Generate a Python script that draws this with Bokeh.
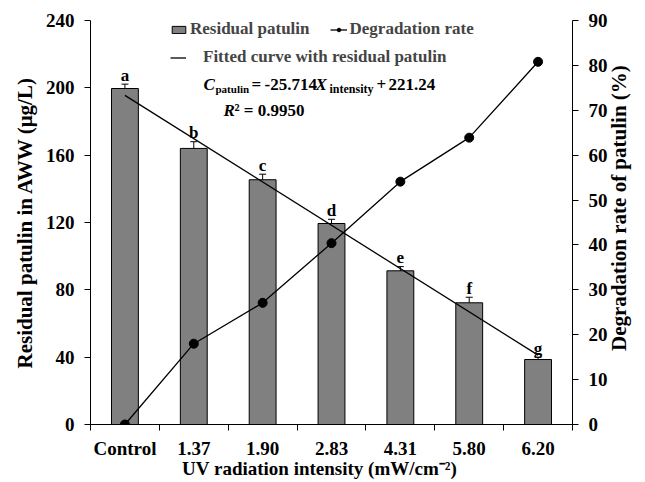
import math
from bokeh.plotting import figure
from bokeh.models import (Range1d, LinearAxis, FixedTicker, ColumnDataSource, Whisker,
                          TeeHead, Legend, LegendItem, Label)
from bokeh.embed import file_html
from bokeh.resources import INLINE
from bokeh.core.properties import value

# ---------------- data ----------------
categories = ["Control", "1.37", "1.90", "2.83", "4.31", "5.80", "6.20"]
residual = [199.6, 164.0, 145.4, 119.4, 91.3, 72.3, 38.6]
residual_err = [2.6, 4.0, 3.3, 2.5, 2.5, 3.3, 1.4]
letters = ["a", "b", "c", "d", "e", "f", "g"]
degradation = [0.0, 18.0, 27.1, 40.4, 54.1, 63.9, 80.8]
fit_x = [1, 7]
fit_y = [195.5, 41.2]
left_ticks = [0, 40, 80, 120, 160, 200, 240]
right_ticks = [0, 10, 20, 30, 40, 50, 60, 70, 80, 90]

FONT = "Liberation Serif"
positions = list(range(1, len(categories) + 1))
upper = [r + e for r, e in zip(residual, residual_err)]
lower = [r - e for r, e in zip(residual, residual_err)]
src = ColumnDataSource(dict(x=positions, top=residual, upper=upper, lower=lower,
                            letter=letters, rate=degradation))

p = figure(width=645, height=482, x_range=Range1d(0.5, len(categories) + 0.5),
           y_range=Range1d(0, 240), output_backend="svg", toolbar_location=None,
           min_border_left=90, min_border_right=73, min_border_top=20, min_border_bottom=58)
p.extra_y_ranges = {"rate": Range1d(0, 90)}
p.xgrid.visible = False
p.ygrid.visible = False
p.outline_line_color = None
p.background_fill_color = "white"
p.border_fill_color = "white"

# x axis: labels at centres, ticks at boundaries
xa = p.xaxis[0]
xa.ticker = FixedTicker(ticks=positions, minor_ticks=[i + 0.5 for i in range(len(categories) + 1)])
xa.major_label_overrides = {pos: c for pos, c in zip(positions, categories)}
xa.major_tick_out = 0
xa.major_tick_in = 0
xa.minor_tick_out = 6
xa.minor_tick_in = 0
xa.minor_tick_line_color = "black"
xa.axis_label = "UV radiation intensity (mW/cm\u207b\u00b2)" + "\u00a0" * 5

ya = p.yaxis[0]
ya.ticker = FixedTicker(ticks=left_ticks)
ya.major_tick_out = 6
ya.major_tick_in = 0
ya.minor_tick_out = 0
ya.minor_tick_in = 0
ya.axis_label = "Residual patulin in AWW (\u03bcg/L)"

ra = LinearAxis(y_range_name="rate", ticker=FixedTicker(ticks=right_ticks))
ra.major_tick_out = 6
ra.major_tick_in = 0
ra.minor_tick_out = 0
ra.minor_tick_in = 0
p.add_layout(ra, "right")

for ax in [xa, ya, ra]:
    ax.axis_line_color = "black"
    ax.axis_line_width = 1
    ax.major_tick_line_color = "black"
    ax.major_label_text_font = FONT
    ax.major_label_text_font_style = "bold"
    ax.major_label_text_color = "black"
    ax.major_label_text_font_size = "19px"
    ax.axis_label_text_font = FONT
    ax.axis_label_text_font_style = "bold"
    ax.axis_label_text_color = "black"
    ax.axis_label_text_font_size = "19px"
ya.axis_label_text_font_size = "21px"
xa.major_label_standoff = 7
xa.axis_label_standoff = -4
ya.major_label_standoff = 10
ya.axis_label_standoff = 6
ra.major_label_standoff = 10

# second, tickless right axis that only carries the title (reads bottom-to-top)
rt = LinearAxis(y_range_name="rate", ticker=FixedTicker(ticks=[]),
                axis_label="\u00a0" * 14 + "Degradation rate of patulin (%)")
rt.axis_line_color = None
rt.major_tick_out = 0
rt.major_tick_in = 0
rt.minor_tick_out = 0
rt.minor_tick_in = 0
rt.major_label_standoff = 0
rt.axis_label_standoff = 8
rt.axis_label_orientation = math.pi / 2
rt.axis_label_align = "start"
rt.axis_label_text_font = FONT
rt.axis_label_text_font_style = "bold"
rt.axis_label_text_color = "black"
rt.axis_label_text_font_size = "21px"
p.add_layout(rt, "right")

# ---------------- glyphs ----------------
bars = p.vbar(x="x", top="top", bottom=0, width=0.39, source=src,
              fill_color="#808080", line_color="black", line_width=1)
wh = Whisker(source=src, base="x", upper="upper", lower="lower", line_color="black",
             line_width=1,
             upper_head=TeeHead(size=7, line_color="black", line_width=1),
             lower_head=TeeHead(size=7, line_color="black", line_width=1))
p.add_layout(wh)
p.text(x="x", y="upper", text="letter", source=src, text_font=value(FONT),
       text_font_style="bold", text_font_size="17px", text_align="center",
       text_baseline="alphabetic", y_offset=-9, text_color="black")

fit = p.line(fit_x, fit_y, line_color="black", line_width=1.3)
deg_line = p.line(x="x", y="rate", source=src, y_range_name="rate",
                  line_color="black", line_width=1.3)
deg_pts = p.scatter(x="x", y="rate", source=src, y_range_name="rate", size=9,
                    fill_color="black", line_color="black")

# ---------------- legends ----------------
common = dict(label_text_font=FONT, label_text_font_style="bold", label_text_font_size="17px",
              border_line_color=None, background_fill_alpha=0, padding=0, margin=0,
              label_height=18)
leg1 = Legend(items=[LegendItem(label="Residual patulin", renderers=[bars]),
                     LegendItem(label="Degradation rate", renderers=[deg_line, deg_pts])],
              orientation="horizontal", location=(80, 385), glyph_width=17, glyph_height=9,
              label_standoff=3, spacing=20, **common)
leg2 = Legend(items=[LegendItem(label="Fitted curve with residual patulin", renderers=[fit])],
              location=(80, 357), glyph_width=16, glyph_height=9, label_standoff=17, **common)
p.add_layout(leg1, "center")
p.add_layout(leg2, "center")

# ---------------- equation (page pixel -> frame screen coords) ----------------
def lab(text, cx, cy, size, style):
    p.add_layout(Label(x=cx - 90, y=424 - cy, x_units="screen", y_units="screen", text=text,
                       text_font=FONT, text_font_style=style, text_font_size=size,
                       text_baseline="alphabetic", text_align="left", text_color="black"))

lab("C", 203, 84, "17px", "bold italic")
lab("patulin", 215, 88, "11px", "bold")
lab("=", 251, 84, "17px", "bold")
lab("-25.714", 264, 84, "17px", "bold")
lab("X", 315, 84, "17px", "bold italic")
lab("intensity", 329, 88, "12px", "bold")
lab("+", 376, 84, "17px", "bold")
lab("221.24", 388, 84, "17px", "bold")
lab("R", 223, 110, "17px", "bold italic")
lab("\u00b2 = 0.9950", 234, 110, "17px", "bold")

open("out.html", "w").write(file_html(p, INLINE))
